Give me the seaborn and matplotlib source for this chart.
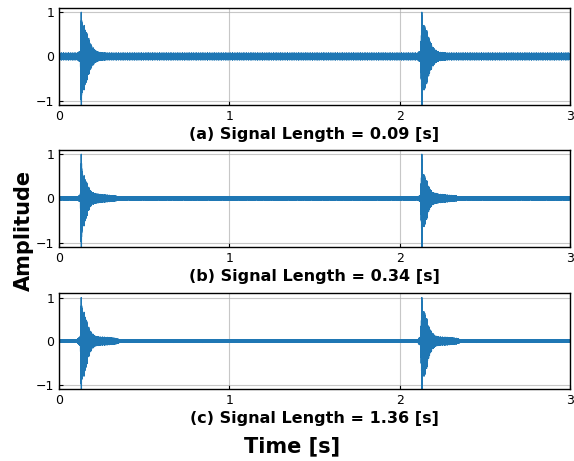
import numpy as np
import pandas as pd
import seaborn as sns
import matplotlib
matplotlib.use("Agg")
import matplotlib.pyplot as plt

# values
panel_labels = ["(a) Signal Length = 0.09 [s]",
                "(b) Signal Length = 0.34 [s]",
                "(c) Signal Length = 1.36 [s]"]
burst_onsets = [0.13, 2.13]          # s
duration = 3.0
fs = 8000                            # samples per second
carrier_hz = 2469.0

# burst envelope, time offsets from onset (s)
env_dt = [-0.03, -0.015, -0.005, 0.0, 0.001, 0.004, 0.02, 0.04, 0.06, 0.08, 0.1, 0.15, 0.2, 0.25]
env_pos_a = [0.0, 0.12, 0.10, 1.00, 0.95, 0.80, 0.70, 0.45, 0.25, 0.15, 0.10, 0.08, 0.0, 0.0]
env_neg_a = [0.0, 0.12, 0.10, 1.15, 1.15, 0.85, 0.75, 0.45, 0.25, 0.15, 0.10, 0.08, 0.0, 0.0]
env_pos_b = [0.0, 0.06, 0.08, 1.00, 0.95, 0.65, 0.50, 0.28, 0.15, 0.12, 0.10, 0.08, 0.06, 0.0]
env_neg_b = [0.0, 0.06, 0.08, 1.15, 1.15, 0.75, 0.60, 0.30, 0.15, 0.12, 0.10, 0.08, 0.06, 0.0]
env_pos_c = [0.0, 0.08, 0.10, 1.00, 0.95, 0.80, 0.65, 0.35, 0.20, 0.12, 0.10, 0.09, 0.07, 0.0]
env_neg_c = [0.0, 0.08, 0.10, 1.15, 1.15, 0.90, 0.80, 0.40, 0.20, 0.12, 0.10, 0.09, 0.07, 0.0]
noise_floor = [0.08, 0.035, 0.03]

envelopes = [(env_pos_a, env_neg_a), (env_pos_b, env_neg_b), (env_pos_c, env_neg_c)]


def build_signal(env_pos, env_neg, floor):
    t = np.arange(int(duration * fs)) / fs
    pos = np.full_like(t, floor)
    neg = np.full_like(t, floor)
    for t0 in burst_onsets:
        pos = np.maximum(pos, np.interp(t - t0, env_dt, env_pos, left=0, right=0))
        neg = np.maximum(neg, np.interp(t - t0, env_dt, env_neg, left=0, right=0))
    carrier = np.cos(2 * np.pi * carrier_hz * (t - burst_onsets[0]))
    # rough edges like in the recording
    rough = 0.75 + 0.25 * np.abs(np.cos(2 * np.pi * 37.3 * t) * np.cos(2 * np.pi * 91.7 * t + 0.4))
    near_onset = np.zeros_like(t, dtype=bool)
    for t0 in burst_onsets:
        near_onset |= np.abs(t - t0) < 0.0015
    rough[near_onset] = 1.0
    y = np.where(carrier > 0, carrier * pos, carrier * neg) * rough
    return pd.DataFrame({"time": t, "amp": y})


sns.set_style("ticks")
plt.rcParams["font.family"] = ["DejaVu Sans"]
plt.rcParams["text.color"] = "black"
plt.rcParams["axes.labelcolor"] = "black"

fig = plt.figure(figsize=(5.74, 4.61), dpi=100)
axes_rect = [(0.103, 0.772, 0.890, 0.211),
             (0.103, 0.464, 0.890, 0.211),
             (0.103, 0.156, 0.890, 0.208)]

for i, rect in enumerate(axes_rect):
    ax = fig.add_axes(rect)
    df = build_signal(envelopes[i][0], envelopes[i][1], noise_floor[i])
    sns.lineplot(data=df, x="time", y="amp", ax=ax, estimator=None, sort=False,
                 color="#1f77b4", linewidth=0.9)
    ax.set_xlim(0, 3)
    ax.set_ylim(-1.1, 1.1)
    ax.set_xticks([0, 1, 2, 3])
    ax.set_yticks([-1, 0, 1])
    ax.grid(True, color="#b0b0b0", linewidth=0.8, alpha=0.7)
    ax.tick_params(direction="in", labelsize=9, length=3, colors="black")
    for s in ax.spines.values():
        s.set_color("black")
        s.set_linewidth(1.0)
    ax.set_ylabel("")
    ax.set_xlabel(panel_labels[i], fontsize=11.5, fontweight="bold", labelpad=3, color="black")

fig.text(0.509, 0.032, "Time [s]", ha="center", va="center", fontsize=15,
         fontweight="bold", color="black")
fig.text(0.042, 0.50, "Amplitude", ha="center", va="center", rotation=90,
         fontsize=15, fontweight="bold", color="black")

fig.savefig("out.png", dpi=100)
